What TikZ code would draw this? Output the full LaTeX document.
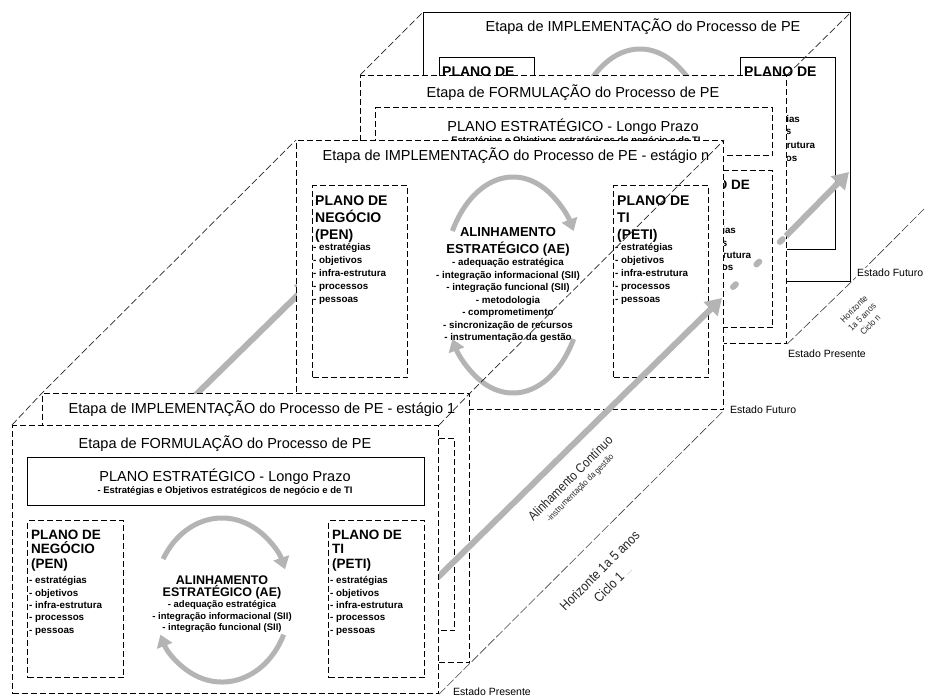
\documentclass[tikz,border=0pt]{standalone}
\usepackage{fontspec}
\setmainfont{Liberation Sans}
\newfontfamily\condfont[FakeStretch=0.88]{Liberation Sans}
\usetikzlibrary{arrows.meta}

\definecolor{arrgray}{RGB}{180,180,180}

\tikzset{
  panel/.style={draw, line width=1.1pt, fill=white, anchor=north west, inner sep=0pt},
  dashline/.style={dash pattern=on 6pt off 3pt},
  ptitle/.style={anchor=base, inner sep=0pt, font=\fontsize{14.5}{16}\selectfont},
  psub/.style={anchor=base, inner sep=0pt, font=\bfseries\fontsize{9.5}{11}\selectfont},
  fhead/.style={anchor=base west, inner sep=0pt, font=\bfseries\fontsize{13.5}{15}\selectfont},
  ihead/.style={anchor=base west, inner sep=0pt, font=\bfseries\fontsize{14}{16}\selectfont},
  pitem/.style={anchor=base west, inner sep=0pt, font=\bfseries\fontsize{9.8}{11}\selectfont},
  aehead/.style={anchor=base, inner sep=0pt, font=\bfseries\fontsize{13}{14}\selectfont},
  aeitem/.style={anchor=base, inner sep=0pt, font=\bfseries\fontsize{9.8}{11}\selectfont},
  aearc/.style={draw=arrgray, line width=5pt, -{Triangle[width=16pt,length=12pt]}},
  flow/.style={draw=arrgray, line width=6pt, -{Triangle[width=19pt,length=16pt]}},
  flowdots/.style={draw=arrgray, line width=6pt, line cap=round, dash pattern=on 4pt off 28.5pt},
  persp/.style={draw=black!85, line width=0.7pt, dash pattern=on 7pt off 3pt},
  horiz/.style={draw=black!75, line width=0.6pt, dash pattern=on 9pt off 2.5pt},
  estado/.style={inner sep=1pt, font=\fontsize{10.5}{12}\selectfont},
  rotlabel/.style={rotate=45, inner sep=0pt, align=center, text=black!85}
}

\newcommand{\planitems}{estratégias,objetivos,infra-estrutura,processos,pessoas}

% partes que ficam visiveis em cada etapa
\newif\ifaetext
\newif\ifpenhead
\newif\ifpentext
\newif\ifpetitext

% etapa de formulacao: nome, x, y, estilo do plano estrategico
\newcommand{\formpanel}[4]{%
  \begin{scope}[shift={(#2,#3)}]
    \node[panel, dashline, minimum width=426pt, minimum height=268pt] (#1) at (0,0) {};
    \node[ptitle] (#1-t) at (213,23) {Etapa de FORMULAÇÃO do Processo de PE};
    \node[panel, #4, minimum width=397pt, minimum height=48pt] (#1-pe) at (15,32) {};
    \node[ptitle] (#1-pet) at (213,56.5) {PLANO ESTRATÉGICO - Longo Prazo};
    \node[psub] (#1-pes) at (213,68.5) {- Estratégias e Objetivos estratégicos de negócio e de TI};
    \node[panel, dashline, minimum width=96pt, minimum height=157pt] (#1-pen) at (15,95) {};
    \node[panel, dashline, minimum width=96pt, minimum height=157pt] (#1-peti) at (316,95) {};
    \ifpenhead
      \node[fhead] (#1-penh1) at (19,114) {PLANO DE};
    \fi
    \ifpentext
      \foreach \h [count=\i from 2] in {NEGÓCIO,(PEN)}
        \node[fhead] (#1-penh\i) at (19,99.5+14.5*\i) {\h};
      \foreach \t [count=\i] in \planitems
        \node[pitem] (#1-peni\i) at (17,146.5+12.3*\i) {- \t};
    \fi
    \ifpetitext
      \foreach \h [count=\i] in {PLANO DE,TI,(PETI)}
        \node[fhead] (#1-petih\i) at (320,99.5+14.5*\i) {\h};
      \foreach \t [count=\i] in \planitems
        \node[pitem] (#1-petii\i) at (318,146.5+12.3*\i) {- \t};
    \fi
    \ifaetext
      \node[aehead, font=\bfseries\fontsize{12.5}{13}\selectfont] (#1-ae1) at (210,159) {ALINHAMENTO};
      \node[aehead, font=\bfseries\fontsize{12.5}{13}\selectfont] (#1-ae2) at (210,171.5) {ESTRATÉGICO (AE)};
      \foreach \t [count=\i] in {adequação estratégica,integração informacional (SII),integração funcional (SII)}
        \node[aeitem, font=\bfseries\fontsize{9.5}{11}\selectfont] (#1-aei\i) at (210,171+11.5*\i) {- \t};
    \fi
    \coordinate (#1-c) at (210,175);
    \draw[aearc] (#1-c) ++(150:68pt and 82pt) arc[start angle=150, end angle=22, x radius=68pt, y radius=82pt];
    \draw[aearc] (#1-c) ++(-25:68pt and 82pt) arc[start angle=-25, end angle=-155, x radius=68pt, y radius=82pt];
  \end{scope}}

% etapa de implementacao: nome, x, y, titulo, estilo das linhas
\newcommand{\implpanel}[5]{%
  \begin{scope}[shift={(#2,#3)}]
    \node[panel, #5, minimum width=427pt, minimum height=269pt] (#1) at (0,0) {};
    \node[ptitle] (#1-t) at (220,20) {#4};
    \node[panel, #5, minimum width=95pt, minimum height=192pt] (#1-pen) at (16,45) {};
    \node[panel, #5, minimum width=95pt, minimum height=192pt] (#1-peti) at (317,45) {};
    \ifpenhead
      \node[ihead] (#1-penh1) at (19,65) {PLANO DE};
    \fi
    \ifpentext
      \foreach \h [count=\i from 2] in {NEGÓCIO,(PEN)}
        \node[ihead] (#1-penh\i) at (19,48+17*\i) {\h};
      \foreach \t [count=\i] in \planitems
        \node[pitem] (#1-peni\i) at (17,97+13*\i) {- \t};
    \fi
    \ifpetitext
      \foreach \h [count=\i] in {PLANO DE,TI,(PETI)}
        \node[ihead] (#1-petih\i) at (321,48+17*\i) {\h};
      \foreach \t [count=\i] in \planitems
        \node[pitem] (#1-petii\i) at (319,97+13*\i) {- \t};
    \fi
    \ifaetext
      \node[aehead] (#1-ae1) at (212,96) {ALINHAMENTO};
      \node[aehead] (#1-ae2) at (212,113) {ESTRATÉGICO (AE)};
      \foreach \t [count=\i] in {adequação estratégica,integração informacional (SII),integração funcional (SII),metodologia,comprometimento,sincronização de recursos,instrumentação da gestão}
        \node[aeitem] (#1-aei\i) at (212,113.3+12.5*\i) {- \t};
    \fi
    \coordinate (#1-c) at (217,145);
    \draw[aearc] (#1-c) ++(150:70pt and 108pt) arc[start angle=150, end angle=30, x radius=70pt, y radius=108pt];
    \draw[aearc] (#1-c) ++(-30:70pt and 108pt) arc[start angle=-30, end angle=-150, x radius=70pt, y radius=108pt];
  \end{scope}}

\begin{document}
\begin{tikzpicture}[x=1pt, y=-1pt]
  \useasboundingbox (0,0) rectangle (925,698);

  % ciclo n, ao fundo
  \aetextfalse \penheadtrue \pentextfalse \petitexttrue
  \implpanel{Ib}{423}{12}{Etapa de IMPLEMENTAÇÃO do Processo de PE}{solid}
  \penheadfalse
  \formpanel{Fb}{360}{75}{dashline}

  % alinhamento, lado esquerdo
  \coordinate (alL1) at (170,420);
  \coordinate (alL2) at (312,281);
  \draw[flow] (alL1) -- (alL2);

  \aetexttrue \penheadtrue \pentexttrue \petitexttrue
  \implpanel{In}{296}{140}{Etapa de IMPLEMENTAÇÃO do Processo de PE - estágio n}{dashline}

  % alinhamento continuo
  \coordinate (alS) at (425,590);
  \coordinate (alM) at (722,298);
  \coordinate (alD) at (733,287);
  \coordinate (alN) at (786,236);
  \coordinate (alE) at (849,172);
  \draw[flowdots] (alD) -- (alN);
  \draw[flow] (alN) -- (alE);

  % ciclo 1, na frente
  \aetextfalse \penheadfalse \pentextfalse \petitextfalse
  \implpanel{I1}{42}{393}{Etapa de IMPLEMENTAÇÃO do Processo de PE - estágio 1}{dashline}
  \draw[flow] (alS) -- (alM);
  \aetexttrue \penheadtrue \pentexttrue \petitexttrue
  \formpanel{F1}{12}{425}{solid}

  % linhas de perspectiva
  \draw[persp] (F1.north west) -- (I1.north west) -- (In.north west);
  \draw[persp] (F1.north east) -- (I1.north east) -- (In.north east);
  \draw[persp] (Fb.north west) -- (Ib.north west);
  \draw[persp] (Fb.north east) -- (Ib.north east);
  \coordinate (hz) at (924,209);
  \draw[horiz] (F1.south east) -- (In.south east);
  \draw[horiz] (Fb.south east) -- (Ib.south east) -- (hz);

  % estados
  \node[estado, anchor=west] (ep1) at (452,692) {Estado Presente};
  \node[estado, anchor=west] (ef1) at (729,410) {Estado Futuro};
  \node[estado, anchor=west] (epn) at (787,354) {Estado Presente};
  \node[estado, anchor=west, fill=white] (efn) at (856,273) {Estado Futuro};

  % textos inclinados
  \node[rotlabel, font=\condfont\fontsize{13}{14}\selectfont] (alin) at (575,483)
    {Alinhamento Contínuo\\[-2pt]{\fontsize{8.7}{10}\selectfont -instrumentação da gestão}};
  \node[rotlabel, font=\condfont\fontsize{13.5}{18}\selectfont] (hor1) at (606,577)
    {Horizonte 1a 5 anos\\Ciclo 1 {\fontsize{4}{5}\selectfont .......}};
  \node[rotlabel, font=\condfont\fontsize{9}{11.5}\selectfont] (horn) at (862,317) {Horizonte\\1a 5 anos\\Ciclo n};
\end{tikzpicture}
\end{document}
